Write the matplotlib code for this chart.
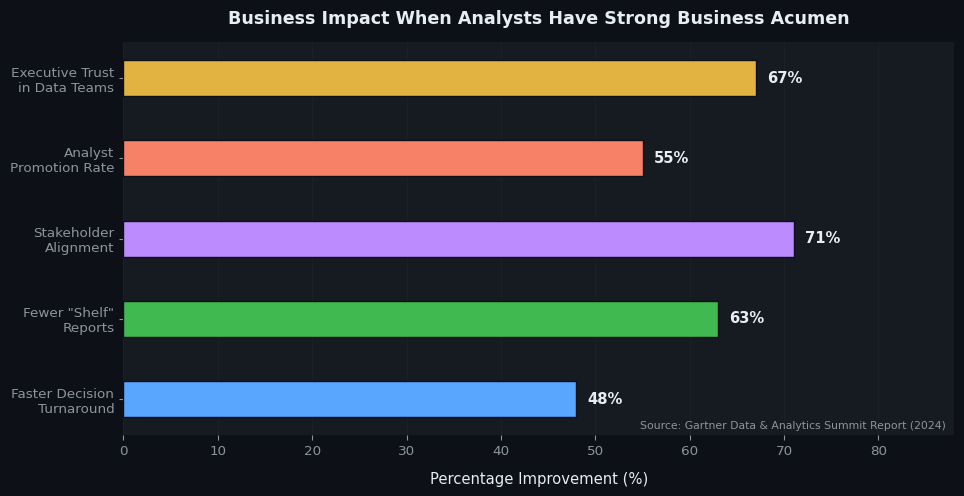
import matplotlib.pyplot as plt

# Data
categories = ['Faster Decision\nTurnaround', 'Fewer "Shelf"\nReports', 'Stakeholder\nAlignment',
              'Analyst\nPromotion Rate', 'Executive Trust\nin Data Teams']
values = [48, 63, 71, 55, 67]
colors = ['#58a6ff', '#3fb950', '#bc8cff', '#f78166', '#e3b341']

fig, ax = plt.subplots(figsize=(9.64, 4.96), dpi=100)
fig.patch.set_facecolor('#0d1117')
ax.set_facecolor('#161b22')

bars = ax.barh(categories, values, height=0.45, color=colors, edgecolor='#0d1117', linewidth=1)

for bar, v in zip(bars, values):
    ax.text(v + 1.2, bar.get_y() + bar.get_height() / 2, f'{v}%', va='center', ha='left',
            color='#e6edf3', fontsize=10.6, fontweight='bold')

ax.set_xlim(0, max(values) * 1.24)
ax.grid(axis='x', color='#30363d', alpha=0.2, linewidth=0.8)
ax.set_axisbelow(True)
for s in ax.spines.values():
    s.set_visible(False)

ax.tick_params(axis='both', colors='#8b949e', labelsize=9.7)
ax.tick_params(axis='y', length=3)
ax.set_xlabel('Percentage Improvement (%)', color='#e6edf3', fontsize=10.6, labelpad=10)
ax.set_title('Business Impact When Analysts Have Strong Business Acumen',
             color='#e6edf3', fontsize=12.6, fontweight='bold', pad=13)

ax.text(0.99, 0.01, 'Source: Gartner Data & Analytics Summit Report (2024)', transform=ax.transAxes,
        ha='right', va='bottom', color='#8b949e', fontsize=7.8)

plt.subplots_adjust(left=0.128, right=0.99, top=0.915, bottom=0.123)
plt.savefig('out.png', facecolor=fig.get_facecolor())
